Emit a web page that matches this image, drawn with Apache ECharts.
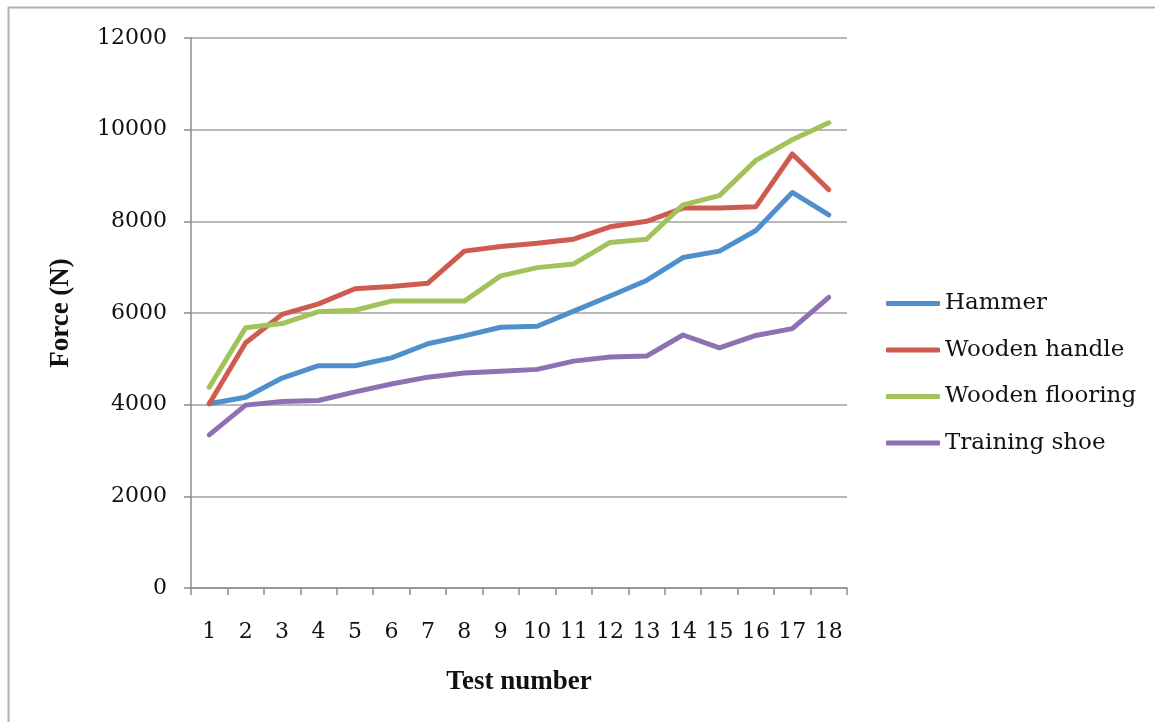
<!DOCTYPE html>
<html><head><meta charset="utf-8">
<script src="https://cdn.jsdelivr.net/npm/echarts@6/dist/echarts.min.js"></script>
<style>html,body{margin:0;padding:0;background:#fff}#c{width:1155px;height:722px}</style>
</head><body><div id="c"></div>
<script>
const categories = ['1','2','3','4','5','6','7','8','9','10','11','12','13','14','15','16','17','18'];
const hammer = [4020, 4160, 4580, 4850, 4850, 5020, 5330, 5500, 5690, 5710, 6040, 6370, 6710, 7210, 7350, 7800, 8630, 8140];
const woodenHandle = [4020, 5350, 5970, 6200, 6530, 6580, 6650, 7350, 7450, 7520, 7610, 7880, 8000, 8290, 8290, 8320, 9470, 8690];
const woodenFlooring = [4380, 5680, 5770, 6030, 6060, 6260, 6260, 6260, 6810, 6990, 7070, 7540, 7610, 8360, 8560, 9330, 9780, 10150];
const trainingShoe = [3340, 3990, 4070, 4090, 4280, 4450, 4600, 4690, 4730, 4770, 4950, 5040, 5060, 5520, 5240, 5510, 5660, 6340];
const seriesNames = ['Hammer', 'Wooden handle', 'Wooden flooring', 'Training shoe'];
const colors = ['#4F8FCB', '#CF5B4F', '#A2C35C', '#8E71B2'];
const yTicks = [0, 2000, 4000, 6000, 8000, 10000, 12000];

const FONT = 'DejaVu Serif';
const chart = echarts.init(document.getElementById('c'));
const data = [hammer, woodenHandle, woodenFlooring, trainingShoe];
chart.setOption({
  animation: false,
  backgroundColor: '#fff',
  graphic: [
    {type: 'line', shape: {x1: 8, y1: 7.5, x2: 1155, y2: 7.5}, style: {stroke: '#b0b0b0', lineWidth: 2}},
    {type: 'line', shape: {x1: 8.5, y1: 7, x2: 8.5, y2: 722}, style: {stroke: '#b0b0b0', lineWidth: 2}}
  ],
  grid: {left: 191, right: 308, top: 38, bottom: 134},
  legend: {
    orient: 'vertical', left: 881, top: 287, itemGap: 23.5,
    itemWidth: 54, itemHeight: 5,
    icon: 'roundRect',
    textStyle: {fontFamily: FONT, fontSize: 23, color: '#111'},
    data: seriesNames
  },
  xAxis: {
    type: 'category', data: categories, boundaryGap: true,
    name: 'Test number', nameLocation: 'middle', nameGap: 81,
    nameTextStyle: {fontFamily: 'Liberation Serif', fontWeight: 'bold', fontSize: 27, color: '#111'},
    axisLine: {lineStyle: {color: '#8c8c8c', width: 1.5}},
    axisTick: {show: true, length: 7, lineStyle: {color: '#8c8c8c', width: 1.5}, alignWithLabel: false},
    axisLabel: {fontFamily: FONT, fontSize: 22, color: '#111', margin: 33, interval: 0}
  },
  yAxis: {
    type: 'value', min: 0, max: 12000, interval: 2000,
    name: 'Force (N)', nameLocation: 'middle', nameGap: 116, nameRotate: 90,
    nameTextStyle: {fontFamily: 'Liberation Serif', fontWeight: 'bold', fontSize: 27, color: '#111'},
    axisLine: {show: true, lineStyle: {color: '#8c8c8c', width: 1.5}},
    axisTick: {show: true, length: 7, lineStyle: {color: '#8c8c8c', width: 1.5}},
    splitLine: {lineStyle: {color: '#a0a0a0', width: 1.5}},
    axisLabel: {fontFamily: FONT, fontSize: 22, color: '#111', margin: 24,
      formatter: v => yTicks.includes(v) ? String(v) : ''}
  },
  series: seriesNames.map((n, i) => ({
    name: n, type: 'line', data: data[i], showSymbol: false, symbol: 'none',
    lineStyle: {width: 5, color: colors[i], cap: 'round', join: 'round'},
    itemStyle: {color: colors[i]}
  }))
});
</script></body></html>
